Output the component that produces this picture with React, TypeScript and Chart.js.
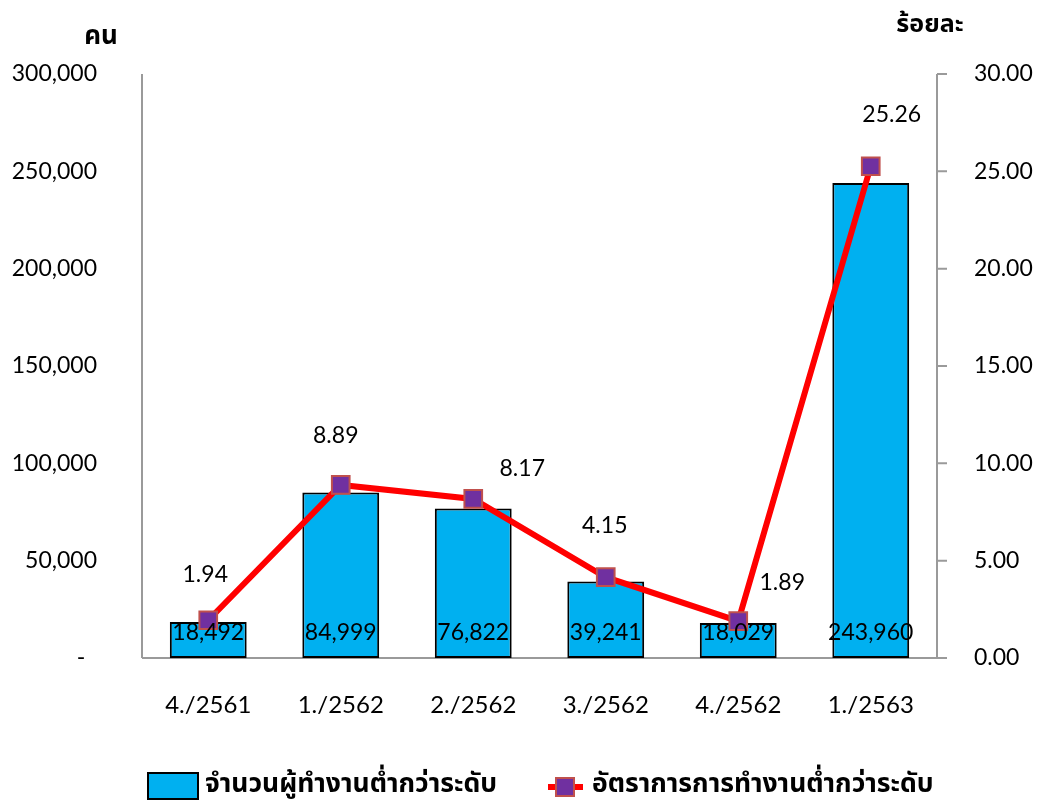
import React, { useEffect, useRef } from "react";
import { Chart, registerables } from "chart.js";

Chart.register(...registerables);

const categories = ["4./2561", "1./2562", "2./2562", "3./2562", "4./2562", "1./2563"];
const workers = [18492, 84999, 76822, 39241, 18029, 243960];
const rates = [1.94, 8.89, 8.17, 4.15, 1.89, 25.26];
const barLabel = "จำนวนผู้ทำงานต่ำกว่าระดับ";
const lineLabel = "อัตราการการทำงานต่ำกว่าระดับ";
const leftTitle = "คน";
const rightTitle = "ร้อยละ";
// label offset of each rate label from its point (dx, dy)
const rateLabelOffsets: [number, number][] = [
  [-3, -46],
  [-5, -49],
  [49, -30],
  [-1, -52],
  [44, -39],
  [21, -52],
];

const FONT = "Lato, 'Noto Sans', 'Noto Sans Thai', Tahoma, 'DejaVu Sans', sans-serif";
const THAI_FONT = "'Noto Sans', 'Noto Sans Thai', Tahoma, 'DejaVu Sans', sans-serif";
const AXIS_COLOR = "#9a9a9a";

export default function App() {
  const ref = useRef<HTMLCanvasElement | null>(null);

  useEffect(() => {
    if (!ref.current) return;

    const decor = {
      id: "decor",
      beforeDatasetsDraw(chart: any) {
        const { ctx, chartArea } = chart;
        const y1 = chart.scales.y1;
        ctx.save();
        ctx.strokeStyle = AXIS_COLOR;
        ctx.lineWidth = 2;
        ctx.beginPath();
        ctx.moveTo(chartArea.left, chartArea.top);
        ctx.lineTo(chartArea.left, chartArea.bottom);
        ctx.moveTo(chartArea.right, chartArea.top);
        ctx.lineTo(chartArea.right, chartArea.bottom);
        ctx.moveTo(chartArea.left, chartArea.bottom);
        ctx.lineTo(chartArea.right + 10, chartArea.bottom);
        y1.ticks.forEach((t: any) => {
          const py = y1.getPixelForValue(t.value);
          ctx.moveTo(chartArea.right, py);
          ctx.lineTo(chartArea.right + 10, py);
        });
        ctx.stroke();
        ctx.restore();
      },
      afterDatasetsDraw(chart: any) {
        const { ctx, chartArea } = chart;
        ctx.save();
        ctx.fillStyle = "#000";
        ctx.textAlign = "center";
        ctx.textBaseline = "middle";
        ctx.font = `23px ${FONT}`;
        const barMeta = chart.getDatasetMeta(0);
        barMeta.data.forEach((el: any, i: number) => {
          ctx.fillText(workers[i].toLocaleString("en-US"), el.x, chartArea.bottom - 25);
        });
        const lineMeta = chart.getDatasetMeta(1);
        lineMeta.data.forEach((el: any, i: number) => {
          const [dx, dy] = rateLabelOffsets[i];
          ctx.fillText(rates[i].toFixed(2), el.x + dx, el.y + dy);
        });

        // axis titles
        ctx.font = `bold 26px ${THAI_FONT}`;
        ctx.fillText(leftTitle, 101, 37);
        ctx.font = `bold 25px ${THAI_FONT}`;
        ctx.fillText(rightTitle, 930, 25);

        // legend
        ctx.font = `bold 26.5px ${THAI_FONT}`;
        ctx.textAlign = "left";
        ctx.fillStyle = "#00B0F0";
        ctx.fillRect(148, 773, 50, 26);
        ctx.strokeStyle = "#000";
        ctx.lineWidth = 2;
        ctx.strokeRect(148, 773, 50, 26);
        ctx.fillStyle = "#000";
        ctx.fillText(barLabel, 205, 784);

        ctx.strokeStyle = "#FF0000";
        ctx.lineWidth = 6;
        ctx.beginPath();
        ctx.moveTo(548, 787);
        ctx.lineTo(583, 787);
        ctx.stroke();
        ctx.fillStyle = "#7030A0";
        ctx.fillRect(556, 778, 18, 18);
        ctx.strokeStyle = "#C0504D";
        ctx.lineWidth = 2;
        ctx.strokeRect(556, 778, 18, 18);
        ctx.fillStyle = "#000";
        ctx.fillText(lineLabel, 592, 784);
        ctx.restore();
      },
    };

    const chart = new Chart(ref.current, {
      type: "bar",
      data: {
        labels: categories,
        datasets: [
          {
            type: "bar",
            label: barLabel,
            data: workers,
            yAxisID: "y",
            backgroundColor: "#00B0F0",
            borderColor: "#000000",
            borderWidth: 2,
            borderSkipped: false,
            barPercentage: 0.58,
            categoryPercentage: 1,
            order: 2,
          },
          {
            type: "line",
            label: lineLabel,
            data: rates,
            yAxisID: "y1",
            borderColor: "#FF0000",
            borderWidth: 6,
            pointStyle: "rect",
            pointRadius: 12.5,
            pointBackgroundColor: "#7030A0",
            pointBorderColor: "#C0504D",
            pointBorderWidth: 2,
            tension: 0,
            order: 1,
          },
        ] as any,
      },
      options: {
        animation: false,
        responsive: false,
        maintainAspectRatio: false,
        layout: { padding: { top: 74, left: 0, right: 0, bottom: 0 } },
        plugins: {
          legend: { display: false },
          tooltip: { enabled: false },
        },
        scales: {
          x: {
            grid: { display: false, drawTicks: false },
            border: { display: false },
            ticks: {
              color: "#000",
              font: { family: FONT, size: 24 },
              padding: 33,
              maxRotation: 0,
            },
            afterFit(scale: any) {
              scale.height = 144;
            },
          },
          y: {
            position: "left",
            min: 0,
            max: 300000,
            grid: { display: false, drawTicks: false },
            border: { display: false },
            ticks: {
              stepSize: 50000,
              color: "#000",
              font: { family: FONT, size: 23 },
              padding: 45,
              callback: (v: any) => (Number(v) === 0 ? "-  " : Number(v).toLocaleString("en-US")),
            },
            afterFit(scale: any) {
              scale.width = 142;
            },
          },
          y1: {
            position: "right",
            min: 0,
            max: 30,
            grid: { display: false, drawTicks: false },
            border: { display: false },
            ticks: {
              stepSize: 5,
              color: "#000",
              font: { family: FONT, size: 23 },
              padding: 37,
              callback: (v: any) => Number(v).toFixed(2),
            },
            afterFit(scale: any) {
              scale.width = 101;
            },
          },
        },
      },
      plugins: [decor],
    });

    return () => chart.destroy();
  }, []);

  return (
    <div style={{ position: "fixed", left: 0, top: 0, width: 1038, height: 802, background: "#fff" }}>
      <canvas ref={ref} width={1038} height={802} style={{ width: 1038, height: 802 }} />
    </div>
  );
}
